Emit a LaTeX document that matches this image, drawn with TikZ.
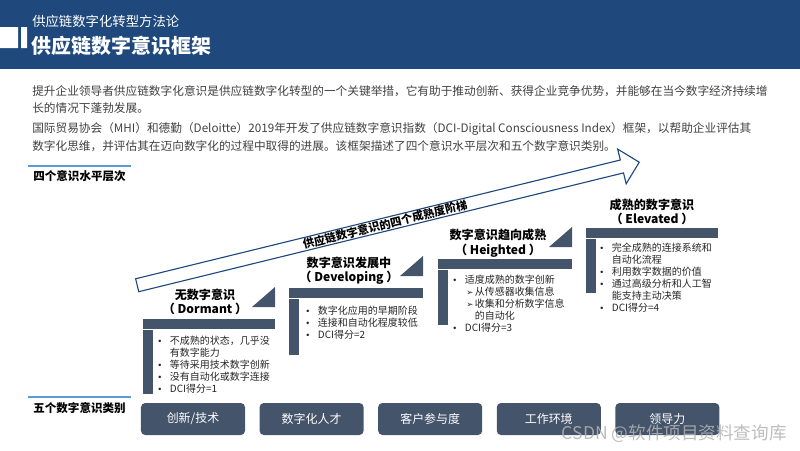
\documentclass[tikz,border=0pt]{standalone}
\usepackage{fontspec}
\setmainfont{Noto Sans CJK SC}
\newfontfamily\symfont{DejaVu Sans}
\usetikzlibrary{shapes.arrows, positioning}
\definecolor{headblue}{HTML}{1F497D}
\definecolor{barslate}{HTML}{44546A}
\definecolor{lineblue}{HTML}{5B9BD5}
\definecolor{bodygray}{HTML}{404040}
\newcommand{\dotitem}{{\symfont\fontsize{6}{6}\selectfont •}}
\newcommand{\arrowitem}{\hspace{1pt}{\symfont\fontsize{6}{6}\selectfont ➢}\hspace{1pt}}

\begin{document}
\begin{tikzpicture}[x=0.025cm, y=-0.025cm, node distance=0.35cm,
    levelbar/.style={fill=barslate, draw=white, line width=0.3pt},
    leveltitle/.style={font=\fontsize{8.6}{10.2}\selectfont\bfseries, align=center, inner sep=0pt},
    bullets/.style={anchor=north west, inner sep=0pt, text=black!85, font=\fontsize{7.1}{8.5}\selectfont},
    bodyline/.style={anchor=west, inner sep=0pt, text=bodygray, font=\fontsize{8.3}{10}\selectfont},
    sidelabel/.style={inner sep=0pt, font=\fontsize{8.2}{10}\selectfont\bfseries},
    category/.style={fill=barslate, rounded corners=3pt, minimum width=2.6cm, minimum height=0.8cm, text=white, font=\fontsize{8.5}{10}\selectfont}]
    \useasboundingbox (0,0) rectangle (800,450);

    \fill[headblue] (0,0) rectangle (800,69);
    \fill[white] (0,27) rectangle (18,48) (21,27) rectangle (27,48);
    \node[anchor=west, inner sep=0pt, text=white, font=\fontsize{9.5}{10}\selectfont] (subTitle) at (32,21) {供应链数字化转型方法论};
    \node[anchor=west, inner sep=0pt, text=white, font=\fontsize{14.2}{16}\selectfont\bfseries] (mainTitle) at (31,46) {供应链数字意识框架};

    \node[bodyline] (introA) at (32,91) {提升企业领导者供应链数字化意识是供应链数字化转型的一个关键举措，它有助于推动创新、获得企业竞争优势，并能够在当今数字经济持续增};
    \node[bodyline] (introB) at (32,108) {长的情况下蓬勃发展。};
    \node[bodyline] (introC) at (32,129) {国际贸易协会（MHI）和德勤（Deloitte）2019年开发了供应链数字意识指数（DCI-Digital Consciousness Index）框架，以帮助企业评估其};
    \node[bodyline] (introD) at (32,146) {数字化思维，并评估其在迈向数字化的过程中取得的进展。该框架描述了四个意识水平层次和五个数字意识类别。};

    \draw[lineblue, line width=1.4pt] (28,166) -- (131,166);
    \node[sidelabel] (levelLabel) at (79.5,176) {四个意识水平层次};
    \draw[lineblue, line width=1.4pt] (28,397) -- (131,397);
    \node[sidelabel] (categoryLabel) at (79.5,408) {五个数字意识类别};

    \node[shape=single arrow, draw=headblue, line width=0.8pt, fill=white, single arrow head extend=0.28cm,
        minimum height=12.92cm, inner xsep=0pt, inner ysep=0.4pt, rotate=13.77,
        font=\fontsize{8}{8}\selectfont\bfseries] (maturityArrow) at (385,224.5) {供应链数字意识的四个成熟度阶梯};

    \foreach \xa/\xb/\yt/\yb in {142/275/318/394, 288/423/287/355, 437/572/258/325, 585/718/227/293} {
        \fill[levelbar] (\xa,\yt) rectangle (\xb,\yt+11);
        \fill[levelbar] (\xa,\yt+11) rectangle (\xa+11,\yb);
    }
    \foreach \xb/\yt in {275/318, 423/287, 572/258}
        \fill[barslate] (\xb-23,\yt-11) -- (\xb,\yt-11) -- (\xb,\yt-31) -- cycle;

    \node[leveltitle] (dormantTitle) at (205,302) {无数字意识\\（ Dormant ）};
    \node[leveltitle] (developingTitle) at (349,271) {数字意识发展中\\（ Developing ）};
    \node[leveltitle] (heightedTitle) at (498,243) {数字意识趋向成熟\\（ Heighted ）};
    \node[leveltitle] (elevatedTitle) at (652,212) {成熟的数字意识\\（ Elevated ）};

    \node[bullets] (dormantList) at (157,336) {\begin{tabular}{@{}p{9pt}@{}l@{}}
        \dotitem & 不成熟的状态，几乎没\\
                 & 有数字能力\\
        \dotitem & 等待采用技术数字创新\\
        \dotitem & 没有自动化或数字连接\\
        \dotitem & DCI得分=1
    \end{tabular}};
    \node[bullets] (developingList) at (305,306) {\begin{tabular}{@{}p{9pt}@{}l@{}}
        \dotitem & 数字化应用的早期阶段\\
        \dotitem & 连接和自动化程度较低\\
        \dotitem & DCI得分=2
    \end{tabular}};
    \node[bullets] (heightedList) at (452,275) {\begin{tabular}{@{}p{9pt}@{}l@{}}
        \dotitem & 适度成熟的数字创新\\
                 & \arrowitem 从传感器收集信息\\
                 & \arrowitem 收集和分析数字信息\\
                 & \phantom{\arrowitem}的自动化\\
        \dotitem & DCI得分=3
    \end{tabular}};
    \node[bullets] (elevatedList) at (599,243) {\begin{tabular}{@{}p{9pt}@{}l@{}}
        \dotitem & 完全成熟的连接系统和\\
                 & 自动化流程\\
        \dotitem & 利用数字数据的价值\\
        \dotitem & 通过高级分析和人工智\\
                 & 能支持主动决策\\
        \dotitem & DCI得分=4
    \end{tabular}};

    \node[category] (catInnovation) at (193,419) {创新/技术};
    \node[category, right=of catInnovation] (catTalent) {数字化人才};
    \node[category, right=of catTalent] (catCustomer) {客户参与度};
    \node[category, right=of catCustomer] (catWorkplace) {工作环境};
    \node[category, right=of catWorkplace] (catLeadership) {领导力};

    \node[anchor=east, inner sep=0pt, text=gray!60, opacity=0.85, font=\fontsize{12.5}{14}\selectfont] (watermark) at (787,434) {CSDN @软件项目资料查询库};
\end{tikzpicture}
\end{document}
